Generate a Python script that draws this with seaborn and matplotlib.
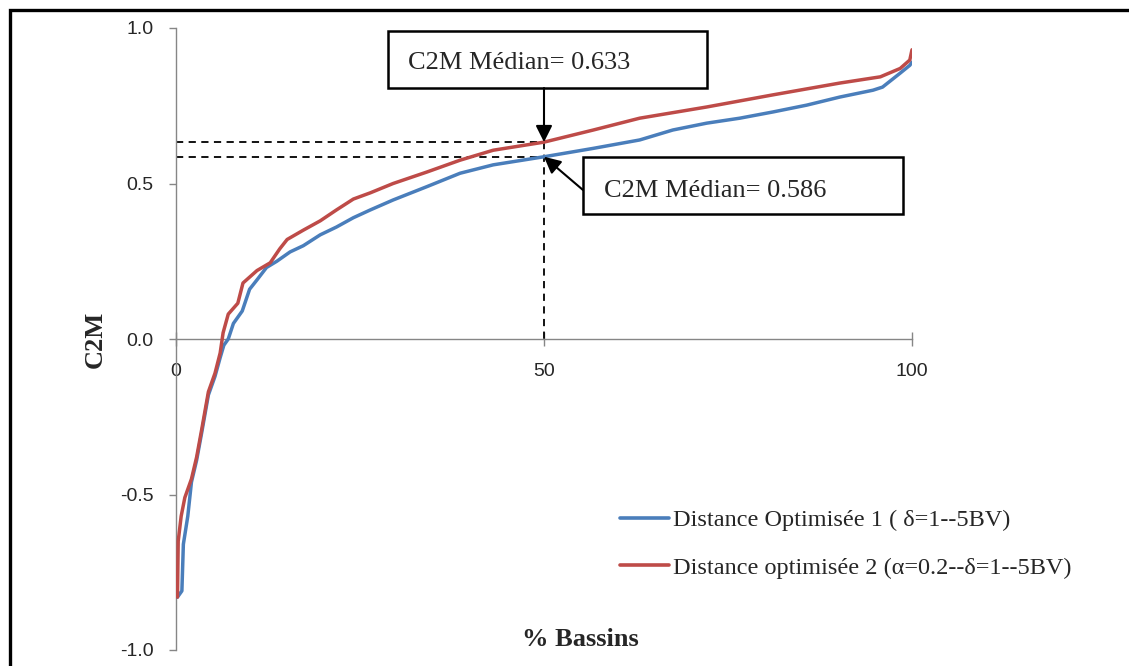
import matplotlib
matplotlib.use("Agg")
import matplotlib.pyplot as plt
import matplotlib.patches as mpatches
import seaborn as sns
import pandas as pd

# ---------------- data ----------------
blue_x = [0.2, 0.8, 1.0, 1.6, 2.1, 2.8, 3.5, 4.4, 5.3, 6.0, 6.5, 7.1, 7.8, 9.0, 10.0,
          11.0, 12.3, 13.7, 15.5, 17.3, 19.6, 21.8, 24.1, 26.4, 29.5, 34.1, 38.6, 43.1,
          50.0, 56.7, 63.0, 67.5, 72.1, 76.6, 81.1, 85.7, 90.2, 94.7, 96.0, 98.4, 99.7, 100.0]
blue_y = [-0.83, -0.81, -0.66, -0.57, -0.46, -0.39, -0.30, -0.18, -0.12, -0.06, -0.02,
          0.00, 0.05, 0.09, 0.16, 0.19, 0.23, 0.25, 0.28, 0.30, 0.335, 0.36, 0.39, 0.415,
          0.447, 0.49, 0.533, 0.56, 0.586, 0.613, 0.64, 0.672, 0.694, 0.71, 0.73, 0.752,
          0.778, 0.80, 0.81, 0.855, 0.88, 0.89]

red_x = [0.2, 0.3, 0.7, 1.2, 2.1, 2.8, 3.5, 4.4, 5.3, 6.0, 6.4, 7.1, 8.4, 9.1, 11.0,
         12.8, 14.1, 15.1, 17.3, 19.6, 21.8, 24.1, 26.4, 29.5, 34.1, 38.6, 43.1, 50.0,
         56.7, 63.0, 72.1, 81.1, 90.2, 95.7, 98.4, 99.7, 100.0]
red_y = [-0.83, -0.65, -0.57, -0.51, -0.45, -0.38, -0.29, -0.17, -0.11, -0.045, 0.02,
         0.08, 0.115, 0.18, 0.22, 0.245, 0.29, 0.32, 0.35, 0.38, 0.415, 0.45, 0.47, 0.50,
         0.537, 0.575, 0.607, 0.633, 0.672, 0.71, 0.746, 0.785, 0.823, 0.843, 0.87, 0.897, 0.93]

series_names = ["Distance Optimisée 1 ( δ=1--5BV)",
                "Distance optimisée 2 (α=0.2--δ=1--5BV)"]
median_x = 50
median_blue = 0.586
median_red = 0.633
annot_labels = ["C2M Médian= 0.633", "C2M Médian= 0.586"]

x_ticks = [0, 50, 100]
x_tick_labels = ["0", "50", "100"]
y_ticks = [-1.0, -0.5, 0.0, 0.5, 1.0]
y_tick_labels = ["-1.0", "-0.5", "0.0", "0.5", "1.0"]
x_label = "% Bassins"
y_label = "C2M"

# ---------------- style ----------------
sns.set_theme(style="white")
plt.rcParams["font.family"] = ["Liberation Serif", "DejaVu Serif"]

BLUE = "#4A7EBB"
RED = "#BE4B48"
GRAY = "#868686"

W, H = 1129, 666
fig = plt.figure(figsize=(W / 100, H / 100), dpi=100)
fig.patch.set_facecolor("white")

ax_l, ax_r, ax_t, ax_b = 176, 912, 28, 650
ax = fig.add_axes([ax_l / W, 1 - ax_b / H, (ax_r - ax_l) / W, (ax_b - ax_t) / H])
ax.set_facecolor("white")

df_blue = pd.DataFrame({"x": blue_x, "y": blue_y})
df_red = pd.DataFrame({"x": red_x, "y": red_y})
sns.lineplot(data=df_blue, x="x", y="y", ax=ax, color=BLUE, lw=2.5, label=series_names[0],
             estimator=None, sort=False, zorder=3)
sns.lineplot(data=df_red, x="x", y="y", ax=ax, color=RED, lw=2.5, label=series_names[1],
             estimator=None, sort=False, zorder=4)

ax.set_xlim(0, 100)
ax.set_ylim(-1.0, 1.0)

# spines
for s in ["top", "right"]:
    ax.spines[s].set_visible(False)
ax.spines["left"].set_color(GRAY)
ax.spines["left"].set_linewidth(1.0)
ax.spines["bottom"].set_position(("data", 0))
ax.spines["bottom"].set_color(GRAY)
ax.spines["bottom"].set_linewidth(1.0)

ax.set_xticks(x_ticks)
ax.set_xticklabels(x_tick_labels)
ax.set_yticks(y_ticks)
ax.set_yticklabels(y_tick_labels)
tick_font = "Liberation Sans"
for lab in ax.get_xticklabels() + ax.get_yticklabels():
    lab.set_fontfamily(tick_font)
    lab.set_fontsize(14)
    lab.set_color("#262626")
ax.tick_params(axis="y", direction="out", length=5, width=1.0, color=GRAY, pad=11, left=True)
ax.tick_params(axis="x", direction="inout", length=10, width=1.0, color=GRAY, pad=12, bottom=True)

ax.set_xlabel(x_label, fontsize=19, fontweight="bold")
ax.xaxis.set_label_coords((580 - ax_l) / (ax_r - ax_l), (ax_b - 640) / (ax_b - ax_t))
ax.xaxis.label.set_va("center")
ax.set_ylabel(y_label, fontsize=19, fontweight="bold")
ax.yaxis.set_label_coords((95 - ax_l) / (ax_r - ax_l), 0.5)
ax.yaxis.label.set_va("center")

# median dashed guides
dash = (0, (4, 3))
ax.plot([0, median_x], [median_red, median_red], color="black", lw=1.3, ls=dash, zorder=2)
ax.plot([0, median_x], [median_blue, median_blue], color="black", lw=1.3, ls=dash, zorder=2)
ax.plot([median_x, median_x], [median_red, 0], color="black", lw=1.3, ls=dash, zorder=2)

# annotation boxes
def axfrac(px, py):
    return ((px - ax_l) / (ax_r - ax_l), (ax_b - py) / (ax_b - ax_t))

def box(x0, y0, x1, y1):
    fx0, fy1 = axfrac(x0, y0)
    fx1, fy0 = axfrac(x1, y1)
    r = mpatches.Rectangle((fx0, fy0), fx1 - fx0, fy1 - fy0, transform=ax.transAxes,
                           fill=True, facecolor="white", edgecolor="black", lw=1.8,
                           clip_on=False, zorder=6)
    ax.add_patch(r)

box(388, 31, 707, 88)
box(583, 157, 903, 214)
tx, ty = axfrac(408, 63)
ax.text(tx, ty, annot_labels[0], transform=ax.transAxes, fontsize=19, ha="left",
        va="center", zorder=7)
tx, ty = axfrac(604, 191)
ax.text(tx, ty, annot_labels[1], transform=ax.transAxes, fontsize=19, ha="left",
        va="center", zorder=7)

arrow_style = "-|>,head_length=0.5,head_width=0.25"
ax.annotate("", xy=(median_x, median_red), xycoords="data",
            xytext=(median_x, axfrac(0, 88)[1]), textcoords=ax.get_xaxis_transform(),
            arrowprops=dict(arrowstyle=arrow_style, color="black", lw=1.5,
                            mutation_scale=20, shrinkA=0, shrinkB=0), zorder=8)
ax.annotate("", xy=(median_x, median_blue), xycoords="data",
            xytext=axfrac(583, 190), textcoords="axes fraction",
            arrowprops=dict(arrowstyle=arrow_style, color="black", lw=1.5,
                            mutation_scale=20, shrinkA=0, shrinkB=0), zorder=8)

# legend
leg = ax.legend(loc="upper left", bbox_to_anchor=(620 / W, 1 - 509 / H),
                bbox_transform=fig.transFigure, frameon=False, fontsize=17.5,
                handlelength=2.0, handletextpad=0.2, labelspacing=1.05,
                borderpad=0, borderaxespad=0)
for line in leg.get_lines():
    line.set_linewidth(2.6)

# outer frame
frame = mpatches.Rectangle((9.5 / W, -0.5), 2.0, 1 - 9.5 / H + 0.5, transform=fig.transFigure,
                           fill=False, edgecolor="black", lw=2.4, zorder=10)
fig.patches.append(frame)

fig.savefig("out.png", dpi=100, facecolor="white")
